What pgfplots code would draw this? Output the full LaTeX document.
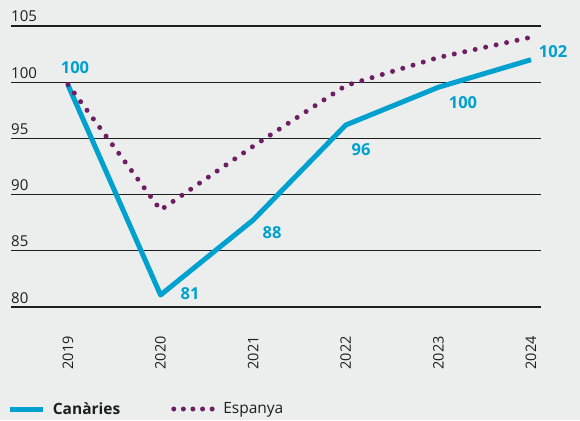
\documentclass[border=0pt]{standalone}
\usepackage{pgfplots}
\pgfplotsset{compat=1.18}
\usepackage{fontspec}
\setmainfont{Open Sans}
\definecolor{bg}{RGB}{236,238,238}
\definecolor{cyanline}{RGB}{0,161,206}
\definecolor{purp}{RGB}{110,30,98}
\definecolor{gridc}{RGB}{30,30,30}
\definecolor{txt}{RGB}{30,30,30}
\begin{document}
\begin{tikzpicture}[x=1pt,y=1pt]
\fill[bg] (0,0) rectangle (580,420);
\useasboundingbox (0,0) rectangle (580,420);
\begin{axis}[
  at={(11pt,113pt)}, anchor=south west,
  scale only axis, width=530pt, height=281pt,
  xmin=2018.385, xmax=2024.108, ymin=80, ymax=105,
  clip=false,
  axis line style={draw=none},
  tick style={draw=none},
  major tick length=0pt,
  ymajorgrids,
  grid style={gridc, line width=1.1pt},
  ytick={80,85,...,105},
  xtick={2019,2020,...,2024},
  /pgf/number format/assume math mode=true,
  /pgf/number format/1000 sep={},
  xticklabel style={rotate=90, anchor=east, inner sep=0pt, text=txt,
    font=\fontsize{14.5}{16}\selectfont},
  xticklabel shift=29pt,
  yticklabel style={anchor=base west, inner sep=0pt, text=txt,
    font=\fontsize{15}{16}\selectfont, xshift=0pt, yshift=4pt},
  yticklabel shift=0pt,
  legend style={at={(-0.012,-0.363)}, anchor=west, draw=none, fill=none,
    legend columns=2, font=\fontsize{15.5}{17}\selectfont, text=txt,
    /tikz/every even column/.append style={column sep=50pt},
    nodes={inner sep=1pt}},
  legend cell align=left,
]
\addplot[cyanline, line width=5pt, line join=round,
  legend image code/.code={\draw[cyanline, line width=5pt] (0pt,0pt) -- (33pt,0pt); \path (39pt,0pt);}]
  coordinates {(2019,99.75) (2020,81.07) (2021,87.74) (2022,96.19) (2023,99.55) (2024,102.0)};
\addlegendentry{\textbf{Canàries}}
\addplot[purp, line width=5pt, line cap=round, dash pattern=on 0pt off 10.7pt,
  legend image code/.code={\draw[purp, line width=5pt, line cap=round, dash pattern=on 0pt off 9.6pt] (2pt,0pt) -- (41pt,0pt); \path (48pt,0pt);}]
  coordinates {(2019,99.8) (2020,88.63) (2021,94.3) (2022,99.7) (2023,102.2) (2024,104.0)};
\addlegendentry{Espanya}
\begin{scope}[every node/.style={text=cyanline, font=\fontsize{16.5}{18}\bfseries}]
\node at (axis cs:2019.076,101.26) {100};
\node at (axis cs:2020.318,81.16) {81};
\node at (axis cs:2021.204,86.58) {88};
\node at (axis cs:2022.165,93.97) {96};
\node at (axis cs:2023.266,98.15) {100};
\node at (axis cs:2024.238,102.69) {102};
\end{scope}
\end{axis}
\end{tikzpicture}
\end{document}
